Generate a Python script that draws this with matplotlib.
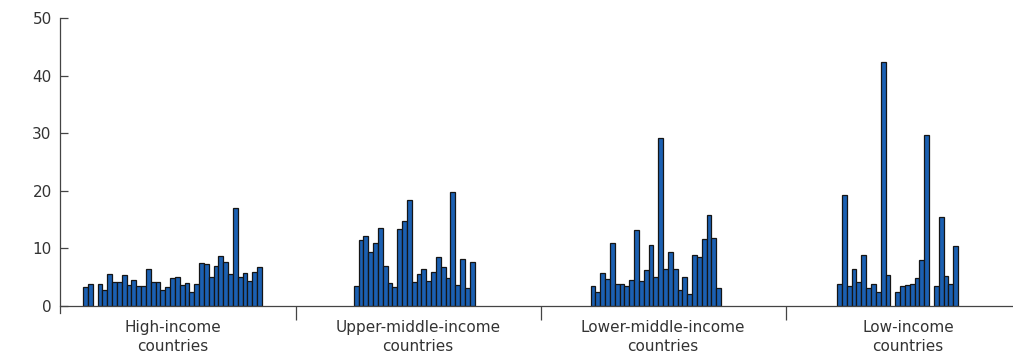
import numpy as np
import matplotlib
matplotlib.use("Agg")
import matplotlib.pyplot as plt

plt.rcParams["font.family"] = ["DejaVu Sans"]

# Valores por grupo de ingreso (NaN = país sin dato)
grupos = ["High-income\ncountries", "Upper-middle-income\ncountries",
          "Lower-middle-income\ncountries", "Low-income\ncountries"]

high_income = [3.3, 3.9, np.nan, 3.8, 2.7, 5.6, 4.1, 4.1, 5.4, 3.6, 4.5, 3.5,
               3.5, 6.4, 4.2, 4.1, 2.8, 3.3, 4.8, 5.1, 3.6, 4.0, 2.4, 3.8,
               7.4, 7.3, 5.0, 6.9, 8.7, 7.6, 5.5, 17.0, 5.0, 5.8, 4.3, 5.9, 6.7]
upper_middle = [3.4, 11.4, 12.1, 9.3, 10.9, 13.6, 6.9, 4.0, 3.3, 13.4, 14.8,
                18.4, 4.2, 5.6, 6.4, 4.4, 5.9, 8.5, 6.7, 4.9, 19.8, 3.7, 8.1,
                3.1, 7.6]
lower_middle = [3.4, 2.4, 5.7, 4.7, 11.0, 3.8, 3.9, 3.5, 4.5, 13.2, 4.4, 6.3,
                10.6, 5.0, 29.2, 6.4, 9.3, 6.5, 2.8, 5.0, 2.0, 8.8, 8.5, 11.7,
                15.8, 11.8, 3.1]
low_income = [3.9, 19.2, 3.4, 6.4, 4.1, 8.8, 3.1, 3.8, 2.4, 42.3, 5.4, np.nan,
              2.5, 3.4, 3.6, 3.8, 4.9, 7.9, 29.7, np.nan, 3.5, 15.5, 5.2, 3.9,
              10.5]
series = [high_income, upper_middle, lower_middle, low_income]

# Estilo / disposición
ancho = 0.01973          # ancho de cada barra (en unidades de grupo)
paso_grupo = 50 * ancho  # separación entre centros de grupos de barras
color_barra = "#1b60b2"
gris = "#444444"
texto = "#333333"

fig = plt.figure(figsize=(10.13, 3.58), dpi=100)
ax = fig.add_axes([60 / 1013, 52 / 358, 953 / 1013, 288 / 358])

for k, vals in enumerate(series):
    vals = np.array(vals, dtype=float)
    n = len(vals)
    centro = 0.498 + paso_grupo * k
    x = centro + (np.arange(n) - (n - 1) / 2) * ancho
    ok = ~np.isnan(vals)
    ax.bar(x[ok], vals[ok], width=ancho, color=color_barra,
           edgecolor="#151515", linewidth=0.9)

x0 = (60 - 50.5) / 245
ax.set_xlim(x0, (1013 - 50.5) / 245)
ax.set_ylim(0, 50)
ax.set_yticks(range(0, 51, 10))

ax.set_xticks([1, 2, 3])
ax.set_xticklabels([])
ax.set_xticks([0.5, 1.5, 2.5, 3.5], minor=True)
ax.set_xticklabels(grupos, minor=True, fontsize=11, color=texto,
                   linespacing=1.35)
ax.tick_params(axis="x", which="major", direction="out", length=10,
               color=gris, width=0.9)
ax.tick_params(axis="x", which="minor", length=0, pad=10)
ax.tick_params(axis="y", direction="in", length=6, color=gris, width=0.9,
               labelsize=11, labelcolor=texto, pad=6)

for s in ["top", "right"]:
    ax.spines[s].set_visible(False)
ax.spines["left"].set_color(gris)
ax.spines["bottom"].set_color(gris)
ax.spines["left"].set_linewidth(0.9)
ax.spines["bottom"].set_linewidth(0.9)
ax.spines["left"].set_bounds(-1.2, 50)

fig.savefig("out.png", dpi=100)
